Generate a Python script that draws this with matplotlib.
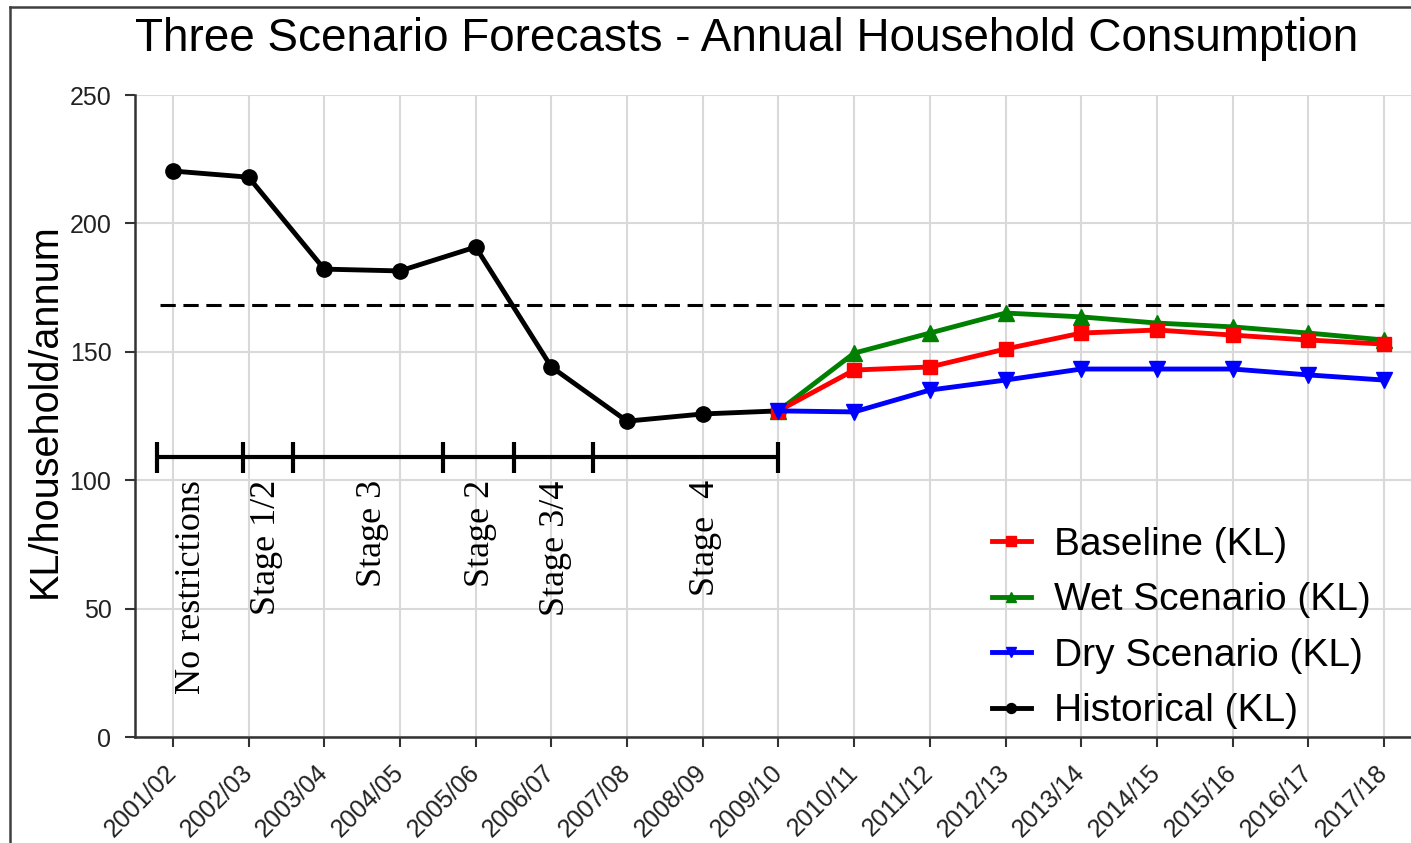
import matplotlib.pyplot as plt
from matplotlib.lines import Line2D

plt.rcParams['font.family'] = ['Liberation Sans', 'DejaVu Sans']

# financial years on the x axis
years = ["2001/02", "2002/03", "2003/04", "2004/05", "2005/06", "2006/07",
         "2007/08", "2008/09", "2009/10", "2010/11", "2011/12", "2012/13",
         "2013/14", "2014/15", "2015/16", "2016/17", "2017/18"]

# KL/household/annum
historical = [220.4, 218.0, 182.2, 181.5, 190.8, 144.1, 123.0, 125.8, 127.0]
baseline = [127.0, 142.9, 144.1, 151.1, 157.3, 158.5, 156.5, 154.6, 153.0]
wet = [127.0, 149.5, 157.3, 165.1, 163.6, 161.2, 159.7, 157.3, 154.6]
dry = [127.0, 126.6, 135.1, 139.0, 143.3, 143.3, 143.3, 141.0, 139.0]
target = 168.2

# restriction periods shown as a bar under the historical series
stage_edges = [-0.21, 0.925, 1.585, 3.567, 4.505, 5.549, 7.99]
stage_labels = ["No restrictions", "Stage 1/2", "Stage 3", "Stage 2",
                "Stage 3/4", "Stage  4"]
stage_label_x = [0.25, 1.24, 2.64, 4.06, 5.06, 7.04]
stage_bar_y = 109

fig = plt.figure(figsize=(14.11, 8.43), dpi=100)
ax = fig.add_axes([0.0957, 0.1257, 0.912, 0.7616])

x_hist = list(range(len(historical)))
x_fc = list(range(len(historical) - 1, len(years)))

ax.plot(x_hist, historical, color="black", lw=3.5, marker="o", ms=11,
        label="Historical (KL)", zorder=3)
ax.plot(x_fc, wet, color="#008000", lw=3.5, marker="^", ms=12,
        label="Wet Scenario (KL)", zorder=4)
ax.plot(x_fc, baseline, color="#ff0000", lw=3.5, marker="s", ms=10.5,
        label="Baseline (KL)", zorder=5)
ax.plot(x_fc, dry, color="#0000ff", lw=3.5, marker="v", ms=12,
        label="Dry Scenario (KL)", zorder=6)

ax.plot([-0.17, 16.0], [target, target], color="black", lw=2.2,
        dashes=(5, 2.5), zorder=2)

# stage bar with end ticks
ax.hlines(stage_bar_y, stage_edges[0], stage_edges[-1], color="black",
          lw=3, zorder=3)
ax.vlines(stage_edges, stage_bar_y - 6, stage_bar_y + 6, color="black",
          lw=3, zorder=3)
for sx, lab in zip(stage_label_x, stage_labels):
    ax.text(sx, 100, lab, rotation=90, ha="center", va="top", fontsize=26,
            family="Liberation Serif", color="black")

ax.set_xlim(-0.5, 16.5)
ax.set_ylim(0, 250)
ax.set_yticks([0, 50, 100, 150, 200, 250])
ax.set_xticks(range(len(years)))
ax.set_xticklabels(years, rotation=45, ha="right", va="center",
                   rotation_mode="anchor", fontsize=18, color="#222222")
ax.tick_params(axis="y", labelsize=18, labelcolor="#222222", pad=10)
ax.tick_params(axis="x", pad=16)
ax.tick_params(axis="both", direction="out", length=7, width=1.5,
               color="#333333")
ax.grid(True, color="#d9d9d9", lw=1.5)
ax.set_axisbelow(True)
for side in ["top", "right"]:
    ax.spines[side].set_visible(False)
for side in ["left", "bottom"]:
    ax.spines[side].set_color("#333333")
    ax.spines[side].set_linewidth(1.8)

handles, labels = ax.get_legend_handles_labels()
order = [2, 1, 3, 0]
leg = ax.legend([handles[i] for i in order], [labels[i] for i in order],
                loc="upper left", bbox_to_anchor=(957 / 1411, 1 - 492 / 843),
                bbox_transform=fig.transFigure, frameon=False, fontsize=28,
                handlelength=1.0, handletextpad=0.6, labelspacing=0.5,
                markerscale=0.65)

fig.text(747 / 1411, 1 - 39 / 843,
         "Three Scenario Forecasts - Annual Household Consumption",
         ha="center", va="center", fontsize=33)
fig.text(45 / 1411, 1 - 411 / 843, "KL/household/annum", rotation=90,
         ha="center", va="center", fontsize=28.5)

# outer frame: only the left and top edges fall inside the image
fx, fy = 10 / 1411, 1 - 7 / 843
fig.add_artist(Line2D([fx, fx], [0, fy], transform=fig.transFigure,
                      color="#404040", lw=1.8))
fig.add_artist(Line2D([fx, 1.05], [fy, fy], transform=fig.transFigure,
                      color="#404040", lw=1.8))

fig.savefig("out.png", dpi=100)
